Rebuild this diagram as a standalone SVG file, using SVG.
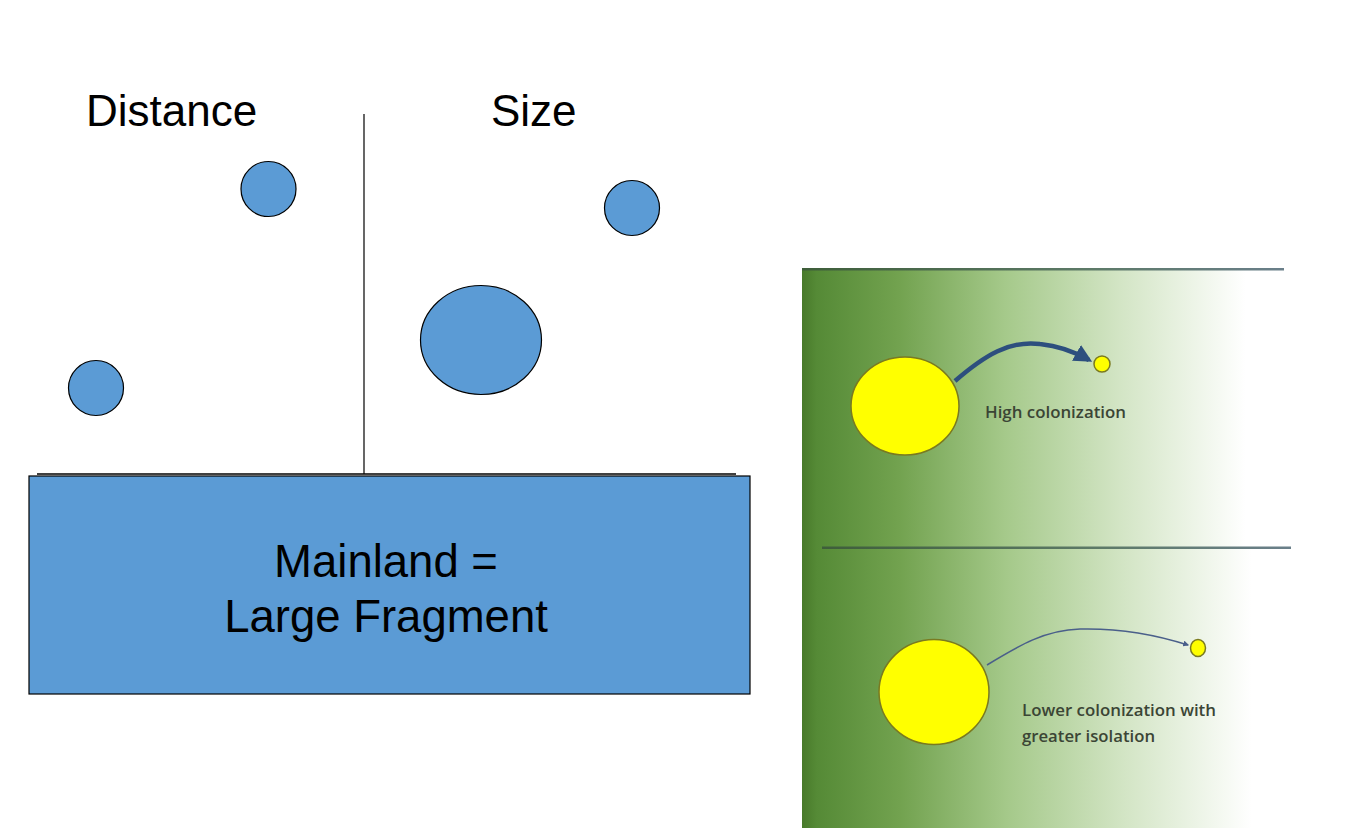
<svg xmlns="http://www.w3.org/2000/svg" width="1361" height="828" viewBox="0 0 1361 828">
<defs>
<style>
.blue{fill:#5b9bd5;stroke:#000;stroke-width:1.2}
.big{font-family:"Liberation Sans",Arial,sans-serif;font-size:44px;fill:#000}
.main{font-size:45.5px}
.lab{font-family:"Open Sans","Liberation Sans",sans-serif;font-size:16px;font-weight:600;fill:#3b4535}
.yel{fill:#ffff00;stroke:#7a7a20;stroke-width:1.5}
</style>
<linearGradient id="g" x1="0" y1="0" x2="1" y2="0">
<stop offset="0" stop-color="#487a2a"/>
<stop offset="0.03" stop-color="#558a36"/>
<stop offset="0.2" stop-color="#72a24f"/>
<stop offset="0.42" stop-color="#a5c98a"/>
<stop offset="0.66" stop-color="#d3e5c5"/>
<stop offset="0.92" stop-color="#ffffff"/>
<stop offset="1" stop-color="#ffffff"/>
</linearGradient>
<linearGradient id="ln" x1="0" y1="0" x2="1" y2="0">
<stop offset="0" stop-color="#3e5e3a"/>
<stop offset="0.6" stop-color="#5d7a68"/>
<stop offset="1" stop-color="#6a7f8a"/>
</linearGradient>
<marker id="ah" viewBox="0 0 10 10" refX="8" refY="5" markerWidth="4" markerHeight="4" orient="auto">
<path d="M0,0 L10,5 L0,10 z" fill="#2d4f7e"/>
</marker>
<marker id="ah2" viewBox="0 0 10 10" refX="8" refY="5" markerWidth="4" markerHeight="4" orient="auto">
<path d="M0,0 L10,5 L0,10 z" fill="#4a5f8a"/>
</marker>
</defs>
<rect width="1361" height="828" fill="#fff"/>

<g id="titles">
<text class="big" x="86" y="126">Distance</text>
<text class="big" x="491" y="126">Size</text>
</g>

<g id="connectors">
<line x1="364" y1="114" x2="364" y2="474" stroke="#000" stroke-width="1.2"/>
<line x1="37" y1="474" x2="736" y2="474" stroke="#000" stroke-width="1.5"/>
</g>

<g id="island-far"><circle class="blue" cx="268.5" cy="189" r="27.5"/></g>
<g id="island-near"><circle class="blue" cx="96" cy="388" r="27.5"/></g>
<g id="island-small"><circle class="blue" cx="632" cy="208" r="27.5"/></g>
<g id="island-large"><ellipse class="blue" cx="481" cy="340" rx="60.5" ry="54.5"/></g>

<g id="mainland">
<rect class="blue" x="29" y="476" width="721" height="218"/>
<text class="big main" x="386" y="577" text-anchor="middle">Mainland =</text>
<text class="big main" x="386" y="632" text-anchor="middle">Large Fragment</text>
</g>

<g id="panel-high">
<rect x="802" y="268" width="482" height="280" fill="url(#g)"/>
<rect x="802" y="268" width="482" height="2.5" fill="url(#ln)"/>
<ellipse class="yel" cx="905" cy="406" rx="54" ry="49"/>
<circle class="yel" cx="1102" cy="364" r="8"/>
<path d="M955,381 C985,355 1010,340 1040,344 C1060,346 1075,352 1089,360" fill="none" stroke="#2d4f7e" stroke-width="4.5" marker-end="url(#ah)"/>
<text class="lab" x="985" y="418" textLength="141" lengthAdjust="spacingAndGlyphs">High colonization</text>
</g>

<g id="panel-low">
<rect x="802" y="548" width="489" height="280" fill="url(#g)"/>
<rect x="822" y="546.5" width="469" height="2.5" fill="url(#ln)"/>
<ellipse class="yel" cx="934" cy="692" rx="55" ry="52.5"/>
<ellipse class="yel" cx="1198" cy="648" rx="7.5" ry="8.5"/>
<path d="M987,665 C1020,645 1045,630 1080,629 C1120,628 1160,636 1188,645" fill="none" stroke="#4a5f8a" stroke-width="1.5" marker-end="url(#ah2)"/>
<text class="lab" x="1022" y="716" textLength="194" lengthAdjust="spacingAndGlyphs">Lower colonization with</text>
<text class="lab" x="1022" y="742" textLength="133" lengthAdjust="spacingAndGlyphs">greater isolation</text>
</g>
</svg>
